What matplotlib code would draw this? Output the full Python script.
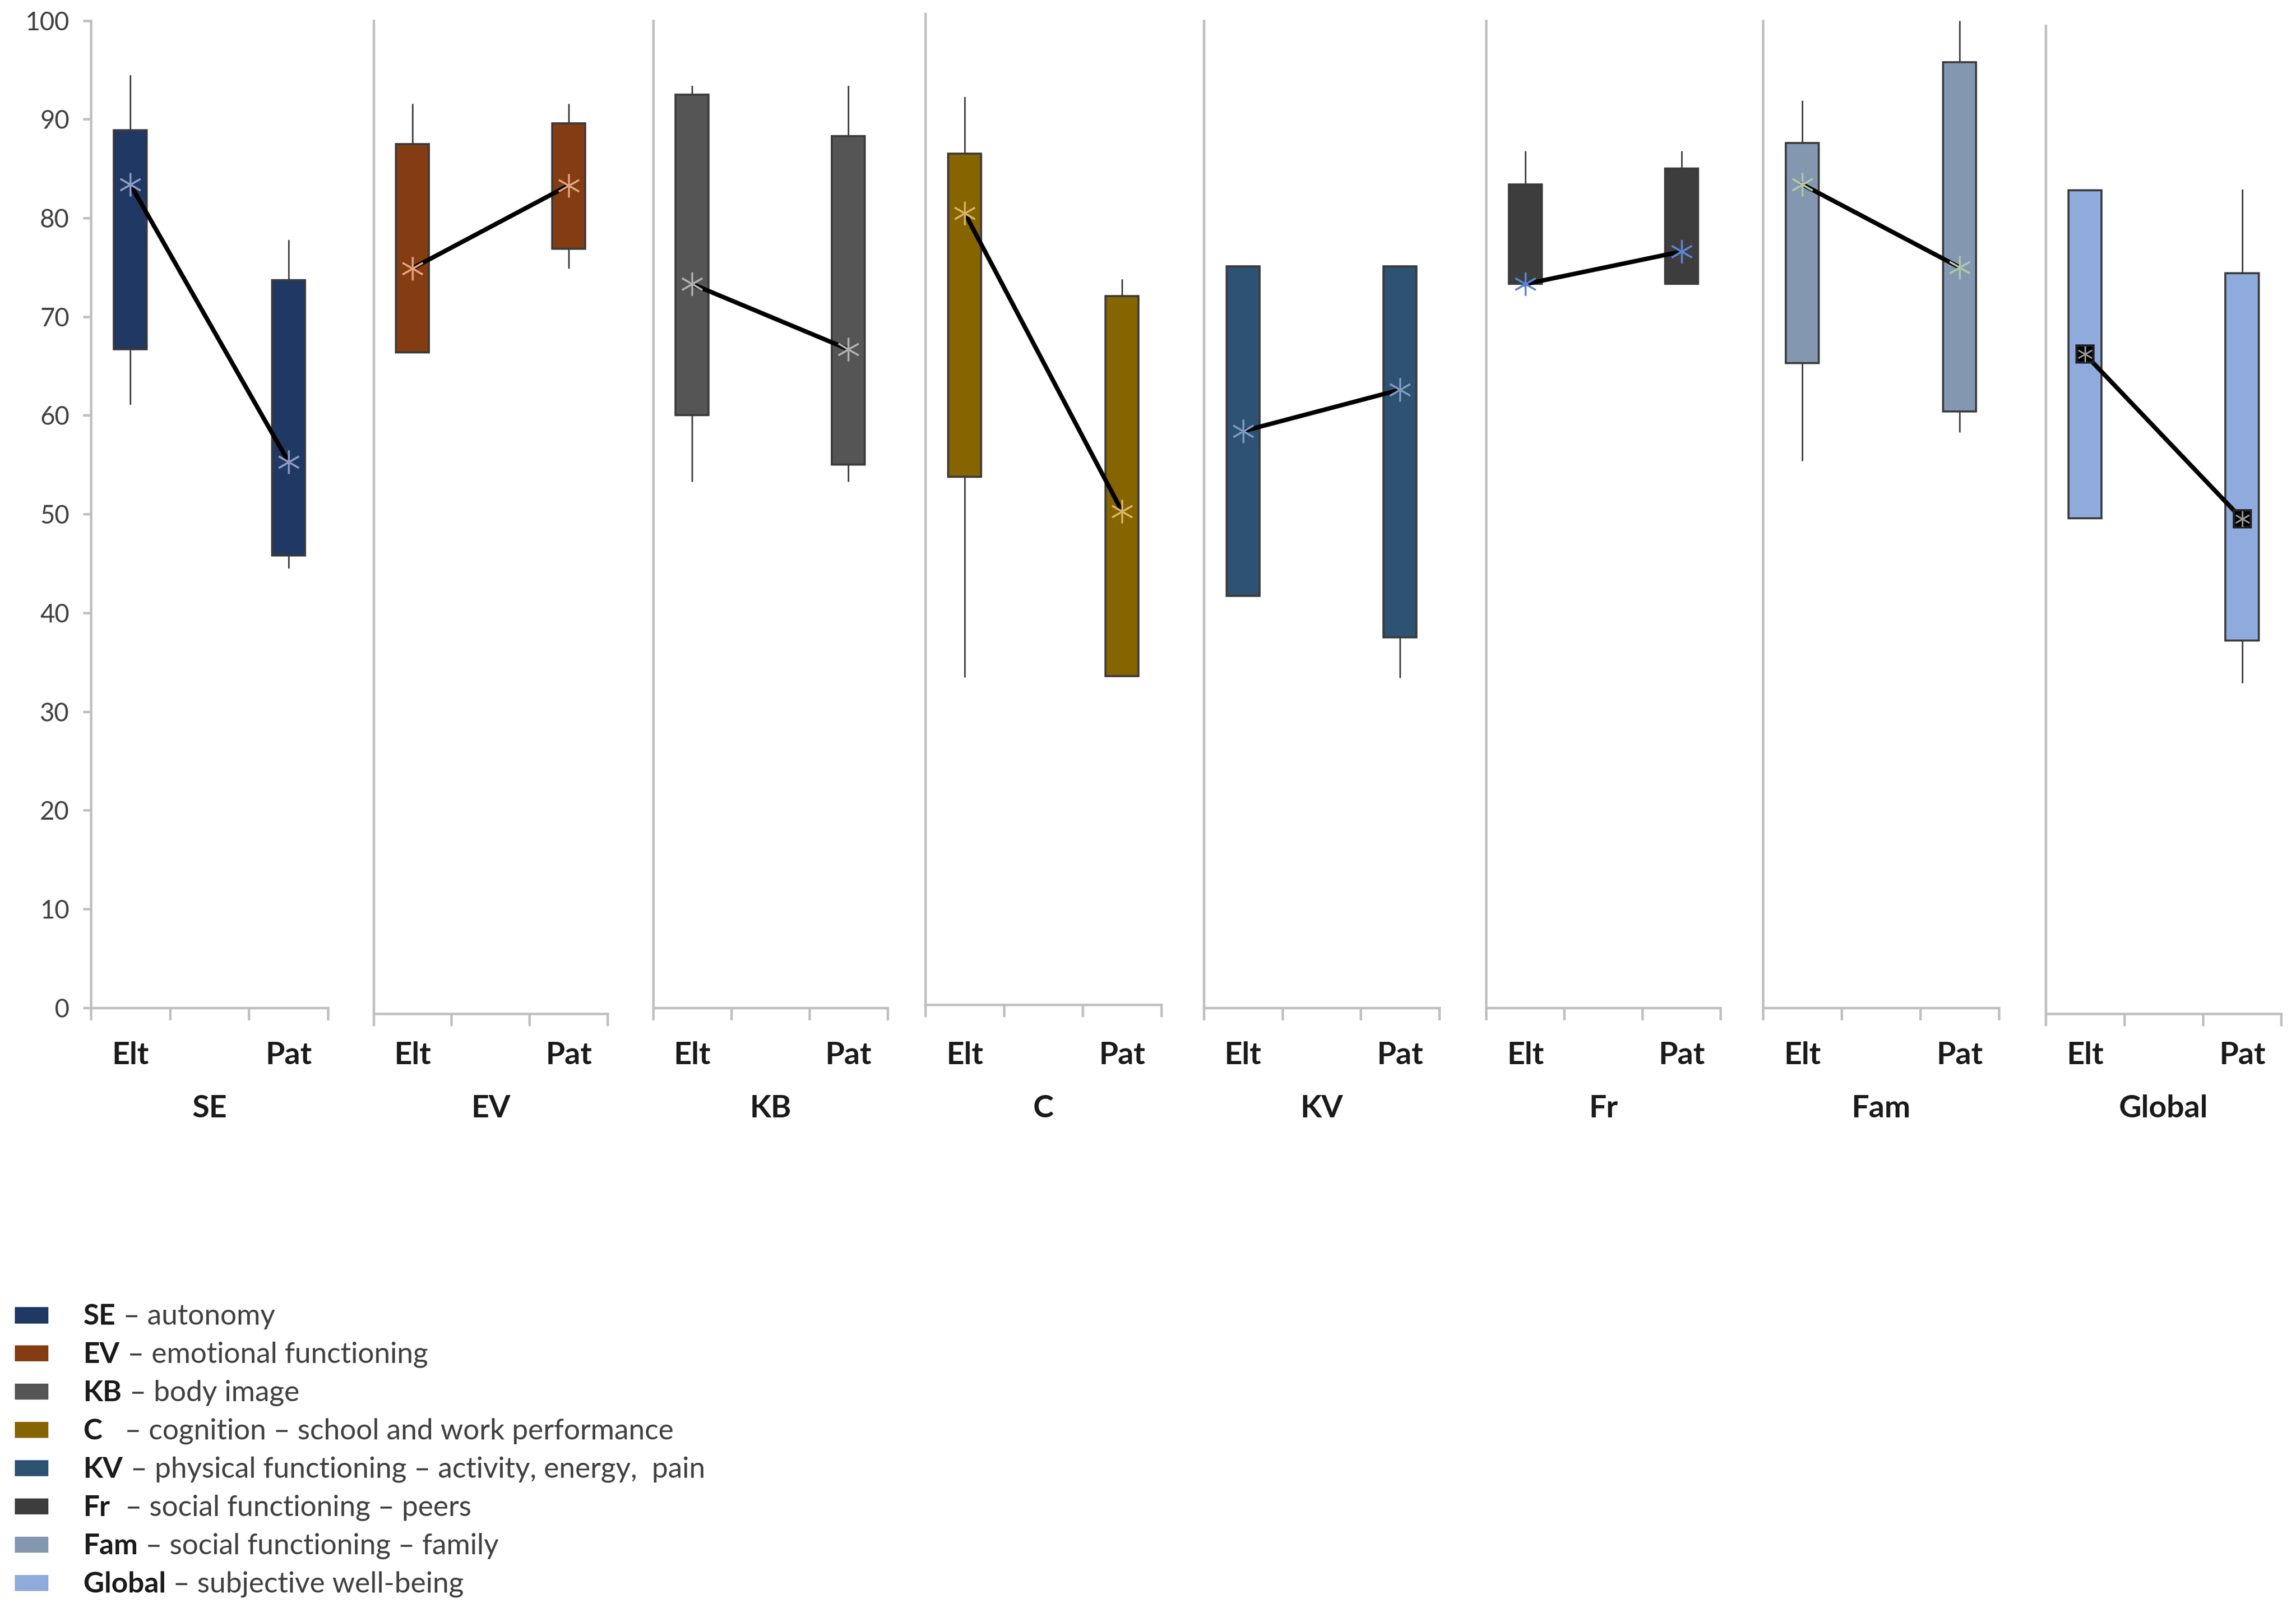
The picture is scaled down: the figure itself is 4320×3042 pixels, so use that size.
import numpy as np
import matplotlib
matplotlib.use("Agg")
import matplotlib.pyplot as plt
from matplotlib.patches import Rectangle

plt.rcParams['font.family'] = ['Lato', 'DejaVu Sans']

# ---------------- data ----------------
groups = ['SE', 'EV', 'KB', 'C', 'KV', 'Fr', 'Fam', 'Global']
cat_labels = ['Elt', 'Pat']
nan = np.nan
elt_wlo  = [61.1, nan, 53.3, 33.5, nan, nan, 55.4, nan]
elt_q1   = [66.7, 66.4, 60.0, 53.8, 41.7, 73.3, 65.3, 49.6]
elt_q3   = [88.9, 87.5, 92.5, 86.5, 75.1, 83.4, 87.6, 82.8]
elt_whi  = [94.5, 91.6, 93.4, 92.3, nan, 86.8, 91.9, nan]
elt_mean = [83.4, 74.9, 73.3, 80.5, 58.4, 73.3, 83.4, 66.2]
pat_wlo  = [44.5, 74.9, 53.3, nan, 33.4, nan, 58.3, 32.9]
pat_q1   = [45.8, 76.9, 55.0, 33.6, 37.5, 73.3, 60.4, 37.2]
pat_q3   = [73.7, 89.6, 88.3, 72.1, 75.1, 85.0, 95.8, 74.4]
pat_whi  = [77.8, 91.6, 93.4, 73.8, nan, 86.8, 100.0, 82.9]
pat_mean = [55.3, 83.3, 66.7, 50.3, 62.6, 76.6, 75.0, 49.5]
yticks = [0, 10, 20, 30, 40, 50, 60, 70, 80, 90, 100]

legend_bold = ['SE', 'EV', 'KB', 'C', 'KV', 'Fr', 'Fam', 'Global']
legend_rest = [' \u2013 autonomy',
               ' \u2013 emotional functioning',
               ' \u2013 body image',
               '   \u2013 cognition \u2013 school and work performance',
               ' \u2013 physical functioning \u2013 activity, energy,  pain',
               '  \u2013 social functioning \u2013 peers',
               ' \u2013 social functioning \u2013 family',
               ' \u2013 subjective well-being']

# ---------------- styles / layout ----------------
box_colors = ['#203864', '#843C12', '#555555', '#866400',
              '#2E5272', '#3D3D3D', '#8497B0', '#8FAADC']
mean_colors = ['#8C9CC4', '#E3A37E', '#B0B0B0', '#D8B466',
               '#7E9CC2', '#5B86D6', '#AFC7A8', '#000000']

W, H = 1568.0, 1104.0
panels_x = [(62, 224), (255, 415), (446, 606), (632, 793),
            (822, 983), (1015, 1175), (1204, 1365), (1397, 1558)]
top_px, bot_px = 14, 688
spine_bottom = [0, -0.6, 0, 0.3, 0, 0, 0, -0.6]
spine_top = [100, 100, 100, 100.7, 100, 100, 100, 99.5]
grey = '#BFBFBF'

fig = plt.figure(figsize=(14.4, 10.14), dpi=300)

for i, g in enumerate(groups):
    x0, x1 = panels_x[i]
    ax = fig.add_axes([x0 / W, 1 - bot_px / H, (x1 - x0) / W, (bot_px - top_px) / H])
    ax.set_xlim(0, 3)
    ax.set_ylim(0, 100)
    for s in ['top', 'right']:
        ax.spines[s].set_visible(False)
    for s in ['left', 'bottom']:
        ax.spines[s].set_color(grey)
        ax.spines[s].set_linewidth(1.1)
    ax.spines['bottom'].set_position(('data', spine_bottom[i]))
    ax.spines['left'].set_bounds(spine_bottom[i], spine_top[i])
    ax.set_xticks([0, 1, 2, 3])
    ax.set_xticklabels([])
    ax.tick_params(axis='x', direction='out', length=5.5, width=1.1, color=grey)
    if i == 0:
        ax.set_yticks(yticks)
        ax.set_yticklabels([str(t) for t in yticks], fontsize=11.5, color='#404040')
        ax.tick_params(axis='y', direction='out', length=3.7, width=1.1, color=grey, pad=6)
    else:
        ax.set_yticks([])
    ax.patch.set_visible(False)

    xs = [0.5, 2.5]
    q1 = [elt_q1[i], pat_q1[i]]
    q3 = [elt_q3[i], pat_q3[i]]
    wlo = [elt_wlo[i], pat_wlo[i]]
    whi = [elt_whi[i], pat_whi[i]]
    mn = [elt_mean[i], pat_mean[i]]
    for k in range(2):
        if not np.isnan(whi[k]):
            ax.vlines(xs[k], q3[k], whi[k], color='#404040', lw=0.7, zorder=2)
        if not np.isnan(wlo[k]):
            ax.vlines(xs[k], wlo[k], q1[k], color='#404040', lw=0.7, zorder=2)
    ax.bar(xs, np.array(q3) - np.array(q1), bottom=q1, width=0.42,
           color=box_colors[i], edgecolor='#3A3A3A', linewidth=0.9, zorder=3)
    ax.plot(xs, mn, color='black', lw=2.0, zorder=4)
    if g == 'Global':
        ax.plot(xs, mn, ls='none', marker='s', ms=7.5, mfc='black', mec='#222222', zorder=5)
        ax.plot(xs, mn, ls='none', marker=(6, 2, 0), ms=7, mec='#9A9A9A', mew=0.6, zorder=6)
    else:
        ax.plot(xs, mn, ls='none', marker=(6, 2, 0), ms=10.5, mec=mean_colors[i],
                mew=0.8, zorder=5)

    xt = ax.get_xaxis_transform()
    for k in range(2):
        ax.annotate(cat_labels[k], xy=(xs[k], 0), xycoords=xt,
                    xytext=(0, -21.5), textcoords='offset points',
                    ha='center', va='center', fontsize=14, fontweight='bold',
                    color='#1a1a1a', annotation_clip=False)
    ax.annotate(g, xy=(1.5, 0), xycoords=xt, xytext=(0, -45.5),
                textcoords='offset points', ha='center', va='center',
                fontsize=14, fontweight='bold', color='#1a1a1a',
                annotation_clip=False)

# ---------------- legend ----------------
row0, step = 898.0, 26.1
for j in range(len(legend_bold)):
    yc = row0 + step * j
    fig.patches.append(Rectangle((10 / W, 1 - (yc + 5.5) / H), 23 / W, 11 / H,
                                 transform=fig.transFigure, facecolor=box_colors[j],
                                 edgecolor='none'))
    tb = fig.text(57 / W, 1 - (yc + 6.5) / H, legend_bold[j], fontsize=13,
                  fontweight='bold', color='#1a1a1a', va='baseline', ha='left')
    plt.annotate(legend_rest[j], xy=(1, 0), xycoords=tb, xytext=(0, 0),
                 textcoords='offset points', va='bottom', ha='left',
                 fontsize=13, color='#404040', annotation_clip=False)

fig.savefig('out.png', dpi=300)
